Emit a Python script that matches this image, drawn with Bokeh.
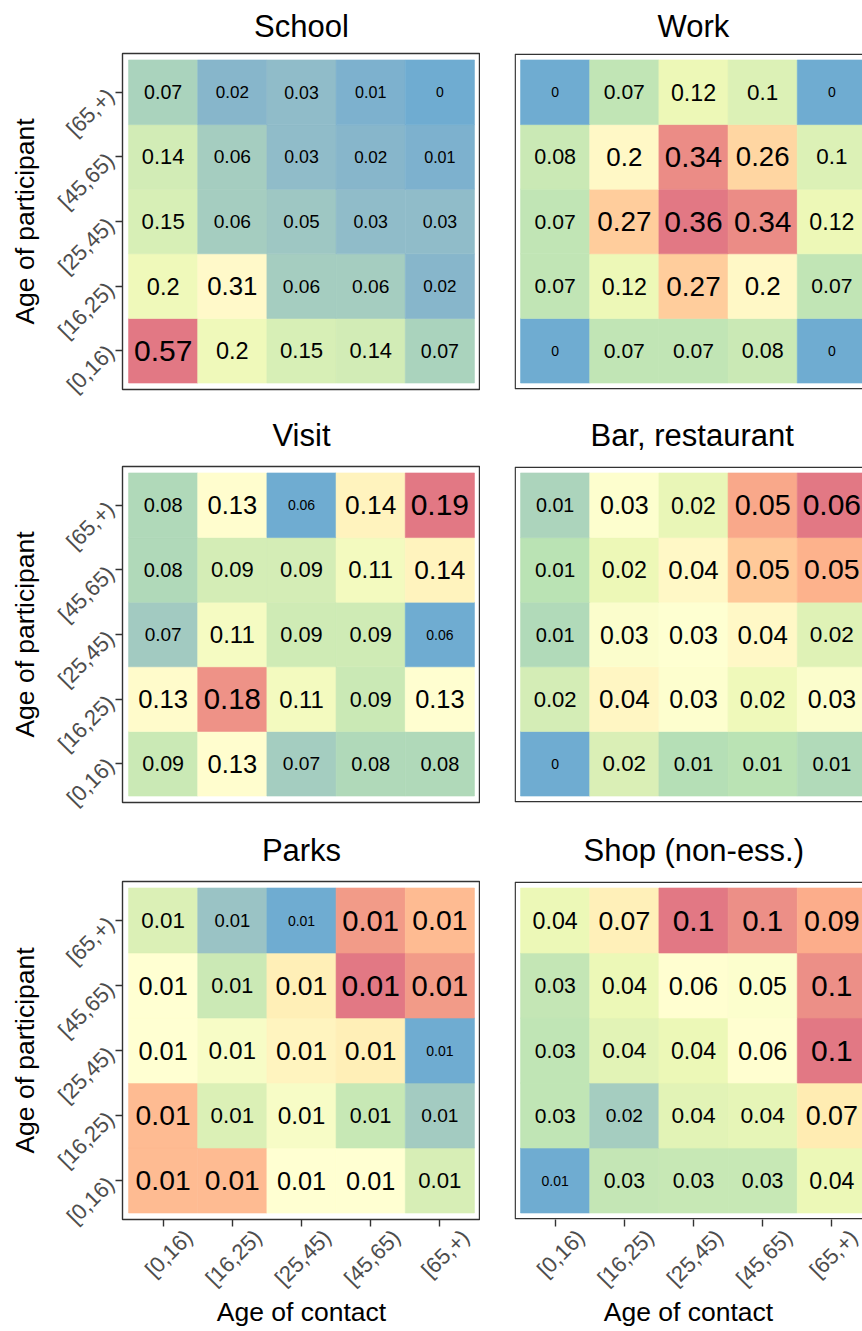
import numpy as np
from math import pi

from bokeh.plotting import figure
from bokeh.models import Range1d, FixedTicker, LinearAxis, ColumnDataSource
from bokeh.layouts import column, row
from bokeh.embed import file_html
from bokeh.resources import INLINE
from bokeh.core.properties import value, field

# ---------------------------------------------------------------- data
AGE_GROUPS = ["[0,16)", "[16,25)", "[25,45)", "[45,65)", "[65,+)"]
PANEL_TITLES = ["School", "Work", "Visit", "Bar, restaurant", "Parks", "Shop (non-ess.)"]
X_LABEL = "Age of contact"
Y_LABEL = "Age of participant"

# rows: age of participant ([0,16) first), columns: age of contact ([0,16) first)
school = [
    [0.57, 0.20, 0.15, 0.14, 0.07],
    [0.20, 0.31, 0.06, 0.06, 0.02],
    [0.15, 0.06, 0.05, 0.03, 0.03],
    [0.14, 0.06, 0.03, 0.02, 0.01],
    [0.07, 0.02, 0.03, 0.01, 0.00],
]
work = [
    [0.00, 0.07, 0.07, 0.08, 0.00],
    [0.07, 0.12, 0.27, 0.20, 0.07],
    [0.07, 0.27, 0.36, 0.34, 0.12],
    [0.08, 0.20, 0.34, 0.26, 0.10],
    [0.00, 0.07, 0.12, 0.10, 0.00],
]
visit = [
    [0.088, 0.128, 0.072, 0.077, 0.077],
    [0.130, 0.183, 0.110, 0.088, 0.127],
    [0.071, 0.112, 0.090, 0.090, 0.058],
    [0.077, 0.092, 0.092, 0.110, 0.138],
    [0.077, 0.128, 0.058, 0.138, 0.193],
]
bar_restaurant = [
    [0.000, 0.017, 0.010, 0.011, 0.009],
    [0.016, 0.036, 0.030, 0.022, 0.029],
    [0.009, 0.029, 0.031, 0.035, 0.018],
    [0.011, 0.021, 0.035, 0.048, 0.052],
    [0.008, 0.030, 0.020, 0.054, 0.063],
]
parks = [
    [0.0124, 0.0124, 0.0100, 0.0100, 0.0081],
    [0.0124, 0.0082, 0.0094, 0.0077, 0.0068],
    [0.0100, 0.0094, 0.0107, 0.0110, 0.0060],
    [0.0100, 0.0078, 0.0110, 0.0140, 0.0132],
    [0.0082, 0.0066, 0.0060, 0.0132, 0.0124],
]
shop = [
    [0.010, 0.029, 0.030, 0.030, 0.041],
    [0.028, 0.020, 0.038, 0.039, 0.071],
    [0.028, 0.038, 0.041, 0.058, 0.104],
    [0.029, 0.041, 0.058, 0.054, 0.098],
    [0.041, 0.068, 0.104, 0.098, 0.089],
]
PANELS = [school, work, visit, bar_restaurant, parks, shop]

# ---------------------------------------------------------------- colours
SPECTRAL = ["#3288BD", "#99D594", "#E6F598", "#FFFFBF", "#FEE08B", "#FC8D59", "#D53E4F"]
FILL_ALPHA = 0.7
M = np.array([[0.4124564, 0.3575761, 0.1804375],
              [0.2126729, 0.7151522, 0.0721750],
              [0.0193339, 0.1191920, 0.9503041]])
MINV = np.linalg.inv(M)
WHITE = np.array([0.95047, 1.0, 1.08883])
D = 6.0 / 29.0


def hex_to_rgb(h):
    return np.array([int(h[i:i + 2], 16) for i in (1, 3, 5)], float) / 255.0


def rgb_to_lab(rgb):
    lin = np.where(rgb <= 0.04045, rgb / 12.92, ((rgb + 0.055) / 1.055) ** 2.4)
    xyz = (M @ lin) / WHITE
    f = np.where(xyz > D ** 3, np.cbrt(xyz), xyz / (3 * D * D) + 4.0 / 29.0)
    return np.array([116 * f[1] - 16, 500 * (f[0] - f[1]), 200 * (f[1] - f[2])])


def lab_to_rgb(lab):
    fy = (lab[0] + 16) / 116.0
    f = np.array([fy + lab[1] / 500.0, fy, fy - lab[2] / 200.0])
    xyz = np.where(f > D, f ** 3, 3 * D * D * (f - 4.0 / 29.0)) * WHITE
    lin = np.clip(MINV @ xyz, 0, None)
    rgb = np.where(lin <= 0.0031308, 12.92 * lin, 1.055 * lin ** (1 / 2.4) - 0.055)
    return np.clip(rgb, 0, 1)


LAB_STOPS = [rgb_to_lab(hex_to_rgb(c)) for c in SPECTRAL]


def colour(t):
    pos = float(np.clip(t, 0, 1)) * (len(LAB_STOPS) - 1)
    i = min(int(pos), len(LAB_STOPS) - 2)
    fr = pos - i
    rgb = lab_to_rgb((1 - fr) * LAB_STOPS[i] + fr * LAB_STOPS[i + 1])
    rgb = FILL_ALPHA * rgb + (1 - FILL_ALPHA)  # composited on white
    return "#%02x%02x%02x" % tuple(int(round(c * 255)) for c in rgb)


def fmt(v):
    return f"{round(v, 2):g}"


# Liberation Sans advance widths (per 1000 em) used to centre the cut-off
# right-hand panel titles over their full (5-column) panel width
ADV = {"W": 944, "o": 556, "r": 333, "k": 500, "B": 667, "a": 556, ",": 278,
       " ": 278, "e": 556, "s": 500, "t": 278, "u": 556, "n": 556, "S": 667,
       "h": 556, "p": 556, "(": 333, ")": 333, "-": 333, ".": 278}


def text_width(s, px):
    return sum(ADV.get(ch, 556) for ch in s) / 1000.0 * px


# ---------------------------------------------------------------- layout
FONT = "Liberation Sans"
TITLE_PX = 31
LEFT_W, RIGHT_W = 480, 382
LEFT_BORDER, GAP = 122, 34
LEFT_FRAME_W = LEFT_W - LEFT_BORDER
RIGHT_FRAME_W = RIGHT_W - GAP
ROW_H = [397, 413, 519]
BORDER_TOP = [53, 69, 71]
BORDER_BOTTOM = [8, 8, 108]
TITLE_STANDOFF = [16, 23, 23]
X_PAD, Y_PAD = 0.0875, 0.1
X_START = 0.5 - X_PAD
UNIT_X = LEFT_FRAME_W / (5 + 2 * X_PAD)
TICKS = [1, 2, 3, 4, 5]
LABEL_SHIFT = 0.37


def make_panel(k):
    r, c = divmod(k, 2)
    left = c == 0
    bottom = r == 2
    values = np.array(PANELS[k], float)
    vmin, vmax = values.min(), values.max()

    xs, ys, fills, labels, sizes = [], [], [], [], []
    for i in range(5):          # participant
        for j in range(5):      # contact
            v = values[i, j]
            t = (v - vmin) / (vmax - vmin)
            xs.append(j + 1)
            ys.append(i + 1)
            fills.append(colour(t))
            labels.append(fmt(v))
            sizes.append(f"{14 + 16 * np.sqrt(t):.1f}px")
    src = ColumnDataSource(dict(x=xs, y=ys, fill=fills, label=labels, size=sizes))

    frame_w = LEFT_FRAME_W if left else RIGHT_FRAME_W
    frame_h = ROW_H[r] - BORDER_TOP[r] - BORDER_BOTTOM[r]
    x_end = X_START + frame_w / UNIT_X
    y_top = 5.5 + Y_PAD
    y_range = Range1d(0.5 - Y_PAD, y_top)
    x_range = Range1d(X_START, x_end)

    p = figure(width=LEFT_W if left else RIGHT_W, height=ROW_H[r],
               x_range=x_range, y_range=y_range,
               output_backend="svg", toolbar_location=None, tools="",
               x_axis_location=None, y_axis_location=None,
               min_border_left=LEFT_BORDER if left else GAP, min_border_right=0,
               min_border_top=BORDER_TOP[r], min_border_bottom=BORDER_BOTTOM[r])
    p.grid.visible = False
    p.background_fill_color = "white"
    p.border_fill_color = "white"

    title = PANEL_TITLES[k]
    p.title.text = title
    p.title.vertical_align = "top"
    p.title.text_font = FONT
    p.title.text_font_size = f"{TITLE_PX}px"
    p.title.text_font_style = "normal"
    p.title.text_color = "black"
    p.title.standoff = TITLE_STANDOFF[r]
    if left:
        p.title.align = "center"
    else:
        # centre over the full panel (column 3), which runs past the page edge
        centre_px = (3 - X_START) * UNIT_X
        p.title.align = "left"
        p.title.offset = int(round(centre_px - text_width(title, TITLE_PX) / 2))

    p.rect("x", "y", width=1, height=1, source=src, fill_color="fill",
           line_color="fill", line_width=0.6)
    p.text("x", "y", text="label", source=src, text_font=value(FONT),
           text_font_size=field("size"), text_align="center",
           text_baseline="middle", text_color="black")

    if left:
        p.outline_line_color = "#333333"
        p.outline_line_width = 1.4
    else:
        p.outline_line_color = None
        ix = 0.7 / UNIT_X
        iy = 0.7 * (5 + 2 * Y_PAD) / frame_h
        p.quad(left=X_START + ix, right=x_end + 1, bottom=0.5 - Y_PAD + iy,
               top=y_top - iy, fill_color=None, line_color="#333333",
               line_width=1.4)

    def style(ax):
        ax.axis_line_color = None
        ax.major_tick_in = 0
        ax.minor_tick_in = 0
        ax.minor_tick_out = 0
        ax.major_tick_line_color = "#333333"
        ax.major_tick_line_width = 1.4
        ax.major_label_text_font = FONT
        ax.major_label_text_font_size = "22px"
        ax.major_label_text_color = "#4D4D4D"
        ax.axis_label_text_font = FONT
        ax.axis_label_text_font_size = "26.5px"
        ax.axis_label_text_font_style = "normal"
        ax.axis_label_text_color = "black"

    if left:
        yax = LinearAxis(ticker=FixedTicker(ticks=TICKS),
                         major_label_overrides={t: g for t, g in zip(TICKS, AGE_GROUPS)})
        style(yax)
        yax.major_tick_out = 7
        yax.major_label_orientation = pi / 4
        yax.major_label_standoff = 5
        yax.axis_label = Y_LABEL
        yax.axis_label_standoff = 1
        p.add_layout(yax, "left")

    if bottom:
        tick_ax = LinearAxis(ticker=FixedTicker(ticks=TICKS),
                             major_label_overrides={t: "" for t in TICKS})
        style(tick_ax)
        tick_ax.major_tick_out = 7
        tick_ax.major_label_text_font_size = "0px"
        tick_ax.major_label_standoff = 0
        p.add_layout(tick_ax, "below")

        shifted = [t + LABEL_SHIFT for t in TICKS]
        lab_ax = LinearAxis(ticker=FixedTicker(ticks=shifted),
                            major_label_overrides={t: g for t, g in zip(shifted, AGE_GROUPS)})
        style(lab_ax)
        lab_ax.major_tick_out = 0
        lab_ax.major_tick_line_color = None
        lab_ax.major_label_orientation = pi / 4
        lab_ax.major_label_standoff = 7
        lab_ax.axis_label = X_LABEL
        lab_ax.axis_label_standoff = -6
        p.add_layout(lab_ax, "below")
    return p


figs = [make_panel(k) for k in range(6)]
layout = column(row(figs[0], figs[1]), row(figs[2], figs[3]), row(figs[4], figs[5]))

open("out.html", "w").write(file_html(layout, INLINE))
